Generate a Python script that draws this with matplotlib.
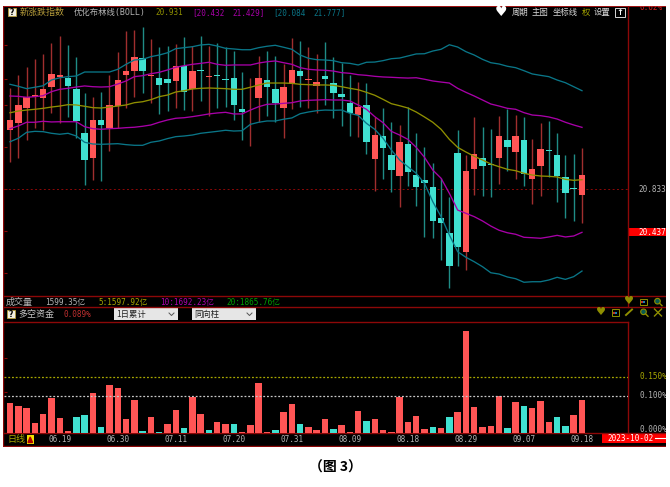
import matplotlib
matplotlib.use('Agg')
import matplotlib.pyplot as plt
from matplotlib.patches import Rectangle, Circle

W, H = 670, 487

# daily candles, index price
high = [21.767, 21.890, 21.967, 22.035, 22.082, 22.183, 22.251, 22.168, 22.054, 21.721,
        21.690, 21.730, 21.890, 22.100, 22.297, 22.307, 22.337, 22.223, 22.152, 22.161,
        22.177, 22.242, 22.158, 22.251, 22.158, 22.183, 22.152, 22.115, 21.921, 21.860,
        22.066, 22.115, 22.066, 21.992, 22.230, 22.205, 22.147, 22.085, 22.198, 22.054,
        22.001, 21.890, 21.828, 21.816, 21.505, 21.582, 21.453, 21.428, 21.597, 21.351,
        21.221, 21.073, 20.940, 20.764, 21.381, 21.150, 21.502, 21.412, 21.391, 21.511,
        21.573, 21.520, 21.499, 21.298, 21.443, 21.468, 21.351, 21.150, 21.162, 21.218]
low = [21.083, 21.125, 21.289, 21.400, 21.381, 21.536, 21.443, 21.499, 21.305, 20.873,
       20.919, 20.913, 21.187, 21.397, 21.582, 21.690, 21.721, 21.628, 21.527, 21.557,
       21.588, 21.569, 21.560, 21.653, 21.514, 21.582, 21.594, 21.474, 21.289, 21.236,
       21.458, 21.514, 21.458, 21.305, 21.573, 21.592, 21.582, 21.536, 21.613, 21.490,
       21.421, 21.326, 21.320, 21.157, 20.820, 20.928, 20.811, 20.672, 20.863, 20.681,
       20.395, 20.380, 20.179, 19.917, 20.126, 20.086, 20.780, 20.771, 20.765, 20.882,
       21.005, 20.928, 20.866, 20.697, 20.774, 20.950, 20.713, 20.567, 20.543, 20.524]
open_ = [21.379, 21.449, 21.582, 21.691, 21.680, 21.779, 21.875, 21.860, 21.758, 21.357,
         21.120, 21.471, 21.397, 21.603, 21.890, 21.930, 22.045, 21.881, 21.865, 21.853,
         21.838, 21.973, 21.764, 21.938, 21.870, 21.888, 21.855, 21.865, 21.579, 21.525,
         21.680, 21.847, 21.764, 21.582, 21.804, 21.927, 21.842, 21.789, 21.878, 21.814,
         21.715, 21.628, 21.517, 21.613, 21.116, 21.326, 21.147, 20.953, 21.255, 20.962,
         20.916, 20.851, 20.570, 20.431, 21.166, 20.250, 21.024, 21.120, 21.070, 21.120,
         21.292, 21.175, 21.292, 20.931, 21.051, 21.194, 21.147, 20.944, 20.842, 20.780]
close = [21.477, 21.610, 21.684, 21.701, 21.764, 21.900, 21.888, 21.786, 21.465, 21.104,
         21.474, 21.428, 21.610, 21.847, 21.927, 22.054, 21.927, 21.890, 21.795, 21.813,
         21.971, 21.733, 21.930, 21.929, 21.879, 21.879, 21.846, 21.616, 21.545, 21.534,
         21.860, 21.777, 21.628, 21.777, 21.937, 21.878, 21.851, 21.828, 21.851, 21.727,
         21.690, 21.536, 21.597, 21.268, 21.332, 21.212, 21.009, 21.268, 20.990, 20.854,
         20.894, 20.542, 20.524, 20.123, 20.302, 21.002, 21.157, 21.048, 21.058, 21.326,
         21.227, 21.326, 20.975, 21.024, 21.206, 21.184, 20.959, 20.799, 20.833, 20.965]

# BOLL bands
boll_top = [21.804, 21.786, 21.764, 21.777, 21.791, 21.844, 21.865, 21.875, 21.881, 21.918,
            21.918, 21.918, 21.918, 21.943, 21.989, 22.029, 22.035, 22.060, 22.075, 22.096,
            22.134, 22.143, 22.152, 22.168, 22.174, 22.158, 22.137, 22.131, 22.124, 22.124,
            22.143, 22.156, 22.165, 22.147, 22.128, 22.075, 22.045, 22.032, 22.029, 22.023,
            22.004, 21.998, 21.983, 22.008, 22.010, 22.023, 22.041, 22.047, 22.066, 22.085,
            22.087, 22.112, 22.128, 22.170, 22.149, 22.106, 22.075, 22.035, 22.004, 21.992,
            21.971, 21.958, 21.930, 21.900, 21.887, 21.875, 21.844, 21.819, 21.782, 21.745]
boll_up = [21.696, 21.693, 21.684, 21.690, 21.699, 21.736, 21.758, 21.767, 21.779, 21.789,
           21.782, 21.779, 21.782, 21.807, 21.835, 21.875, 21.884, 21.902, 21.915, 21.937,
           21.962, 21.976, 21.989, 21.998, 22.008, 21.989, 21.980, 21.983, 21.983, 21.983,
           22.001, 22.013, 22.020, 22.004, 21.989, 21.958, 21.943, 21.937, 21.934, 21.927,
           21.912, 21.906, 21.893, 21.887, 21.878, 21.872, 21.869, 21.865, 21.862, 21.865,
           21.851, 21.835, 21.825, 21.816, 21.767, 21.730, 21.696, 21.659, 21.622, 21.603,
           21.582, 21.573, 21.542, 21.520, 21.514, 21.502, 21.483, 21.453, 21.428, 21.406]
boll_mid = [21.541, 21.557, 21.566, 21.573, 21.582, 21.594, 21.603, 21.616, 21.613, 21.601,
            21.588, 21.585, 21.594, 21.603, 21.613, 21.634, 21.643, 21.662, 21.690, 21.705,
            21.733, 21.745, 21.761, 21.767, 21.770, 21.767, 21.764, 21.758, 21.758, 21.777,
            21.798, 21.816, 21.816, 21.816, 21.813, 21.804, 21.801, 21.798, 21.798, 21.795,
            21.782, 21.767, 21.754, 21.730, 21.703, 21.665, 21.625, 21.606, 21.585, 21.548,
            21.502, 21.453, 21.388, 21.295, 21.221, 21.178, 21.138, 21.104, 21.067, 21.042,
            21.018, 21.005, 20.981, 20.965, 20.956, 20.953, 20.947, 20.925, 20.916, 20.922]
boll_low = [21.394, 21.419, 21.453, 21.453, 21.462, 21.456, 21.458, 21.458, 21.458, 21.412,
            21.394, 21.388, 21.394, 21.397, 21.403, 21.407, 21.416, 21.428, 21.453, 21.474,
            21.490, 21.495, 21.505, 21.517, 21.530, 21.539, 21.545, 21.530, 21.530, 21.566,
            21.597, 21.619, 21.622, 21.628, 21.634, 21.650, 21.656, 21.659, 21.662, 21.659,
            21.659, 21.650, 21.613, 21.573, 21.505, 21.449, 21.369, 21.335, 21.295, 21.221,
            21.129, 21.011, 20.935, 20.796, 20.641, 20.611, 20.580, 20.540, 20.493, 20.454,
            20.431, 20.417, 20.389, 20.385, 20.380, 20.392, 20.407, 20.392, 20.401, 20.435]
boll_bot = [21.273, 21.305, 21.360, 21.369, 21.366, 21.351, 21.342, 21.351, 21.326, 21.268,
            21.252, 21.249, 21.252, 21.255, 21.246, 21.240, 21.240, 21.268, 21.280, 21.302,
            21.320, 21.326, 21.335, 21.351, 21.360, 21.369, 21.379, 21.372, 21.375, 21.434,
            21.453, 21.465, 21.465, 21.481, 21.493, 21.532, 21.548, 21.560, 21.566, 21.564,
            21.566, 21.536, 21.517, 21.443, 21.388, 21.305, 21.197, 21.104, 21.042, 20.981,
            20.888, 20.718, 20.580, 20.410, 20.256, 20.204, 20.163, 20.117, 20.061, 20.049,
            20.022, 20.006, 19.973, 19.978, 19.978, 19.994, 20.019, 20.000, 20.025, 20.077]

# 多空资金, % (negative = short side, drawn upwards in cyan because of 同向柱)
flow = [0.080, 0.071, 0.068, 0.027, 0.051, 0.093, 0.041, 0.005, -0.044, -0.047,
        0.106, -0.015, 0.129, 0.119, 0.038, 0.089, -0.005, 0.042, -0.003, 0.023,
        0.062, -0.013, 0.095, 0.051, -0.007, 0.029, 0.025, -0.025, 0.004, 0.021,
        0.134, 0.003, -0.007, 0.056, 0.077, -0.025, 0.015, 0.008, 0.038, -0.012,
        0.021, 0.003, 0.058, -0.032, 0.038, 0.008, 0.003, 0.096, 0.030, 0.046,
        0.011, -0.015, 0.013, -0.042, 0.056, 0.272, 0.070, 0.016, 0.020, 0.099,
        -0.013, 0.084, -0.071, 0.066, 0.086, 0.029, -0.042, -0.020, 0.049, 0.089]

date_pos = [6, 13, 20, 27, 34, 41, 48, 55, 62, 69]
date_labels = ['06.19', '06.30', '07.11', '07.20', '07.31', '08.09', '08.18', '08.29', '09.07', '09.18']
left_ticks = [20.06, 20.45, 20.84, 21.22, 21.61, 21.85, 22.17]

RED = '#ff5555'
CYAN = '#40e0d0'
WICK_RED = '#a02e2e'
WICK_CYAN = '#1f8c86'
LINE = '#8c0808'
TEAL = '#0a7688'
MAGENTA = '#a800a8'
OLIVE = '#8f8f00'
GRAY = '#b4b4b4'
MONO = ['DejaVu Sans Mono', 'Noto Sans CJK SC']
CJK = ['Noto Sans CJK SC', 'DejaVu Sans']


def rect(x0, y0, x1, y1):
    return [x0 / W, 1 - y1 / H, (x1 - x0) / W, (y1 - y0) / H]


fig = plt.figure(figsize=(W / 100, H / 100), dpi=100, facecolor='white')

# black panel with frame, drawn in pixel coordinates
bg = fig.add_axes(rect(3, 5.5, 666, 447))
bg.set_xlim(3, 666)
bg.set_ylim(447, 5.5)
bg.set_facecolor('black')
bg.set_xticks([])
bg.set_yticks([])
for s in bg.spines.values():
    s.set_visible(False)


def label(x, y, s, color=GRAY, size=5.5, family=MONO, ha='left', **kw):
    bg.text(x, y, s, color=color, fontsize=size, family=family, ha=ha, va='center', clip_on=True, **kw)


def hline(y, x0=3, x1=666, color=LINE, lw=1.0, **kw):
    bg.plot([x0, x1], [y, y], color=color, lw=lw, **kw)


def box_icon(x, y, color=OLIVE):
    bg.add_patch(Rectangle((x - 3.5, y - 3), 7, 6.5, fc='black', ec=color, lw=0.7))
    bg.add_patch(Rectangle((x - 2, y - 0.5), 2, 2, fc='#c03030', ec='none'))
    bg.add_patch(Rectangle((x, y - 0.5), 2, 2, fc='#2080b0', ec='none'))


def lens_icon(x, y):
    bg.add_patch(Circle((x - 0.5, y - 0.5), 2.8, fc='#0a5a50', ec=OLIVE, lw=0.8))
    bg.plot([x + 1.5, x + 4], [y + 1.5, y + 4], color=OLIVE, lw=1.0)


def help_icon(x, y):
    bg.add_patch(Rectangle((x, y), 8, 8, fc='#f2efe0', ec='#b59b3a', lw=0.6))
    bg.text(x + 4, y + 4.2, '?', color='black', fontsize=5.5, fontweight='bold', ha='center', va='center')


def dropdown(x0, x1, s):
    bg.add_patch(Rectangle((x0, 308), x1 - x0, 12.5, fc='#e6e6e6', ec='none'))
    label(x0 + 2, 314.2, s, color='#222222', size=6, family=CJK)
    bg.plot([x1 - 9, x1 - 6.5, x1 - 4], [313, 315.5, 313], color='#555555', lw=0.7)


hline(5.8, color='#c01818', lw=1.2)
hline(296)
hline(306.7)
hline(321.7, x1=628)
hline(433.3)
hline(446.5)
bg.plot([3.4, 3.4], [5.5, 447], color=LINE, lw=1.0)
bg.plot([628.3, 628.3], [5.5, 306.7], color=LINE, lw=1.0)
bg.plot([628.3, 628.3], [321.7, 433.3], color=LINE, lw=1.0)

# header row
help_icon(8, 8.5)
label(20, 12.5, '新涨跌指数', color='#b59b3a', size=6.5, family=CJK)
label(74, 12.5, '优化布林线(BOLL)', color=GRAY, size=6)
label(155, 12.5, '20.931', color=OLIVE)
label(192, 12.5, '[20.432', color=MAGENTA)
label(232, 12.5, '21.429]', color=MAGENTA)
label(273, 12.5, '[20.084', color=TEAL)
label(313, 12.5, '21.777]', color=TEAL)
label(501, 12, '♥', color='white', size=10, family=['DejaVu Sans'], ha='center')
label(512, 12.5, '周期', color='#d8d8d8', size=6, family=CJK)
label(532, 12.5, '主图', color='#d8d8d8', size=6, family=CJK)
label(553, 12.5, '坐标线', color='#d8d8d8', size=6, family=CJK)
label(582, 12.5, '权', color='#a8a800', size=6, family=CJK)
label(594, 12.5, '设置', color='#d8d8d8', size=6, family=CJK)
bg.add_patch(Rectangle((615, 8), 10, 9.5, fc='black', ec='#d8d8d8', lw=0.7))
label(620, 12.5, '↑', color='white', size=6, family=['DejaVu Sans'], ha='center', fontweight='bold')
label(640, 8, '0.62%', color='#d02020')

# right side prices
label(638, 189.5, '20.833')
bg.add_patch(Rectangle((628.8, 227.7), 38, 8.8, fc='#ff0000', ec='none'))
label(638, 232.2, '20.437', color='white')

# volume row
label(6, 302.3, '成交量', size=6.5, family=CJK)
label(45, 302.3, '1599.35亿')
label(98, 302.3, '5:1597.92亿', color='#a8a800')
label(160, 302.3, '10:1692.23亿', color='#b000b0')
label(226, 302.3, '20:1865.76亿', color='#00a000')
label(628.7, 301.5, '♥', color=OLIVE, size=8, family=['DejaVu Sans'], ha='center')
box_icon(643, 301.7)
lens_icon(658, 301.7)

# flow row
help_icon(6.5, 310)
label(18, 314.2, '多空资金', color='#c8c8c8', size=6.5, family=CJK)
label(63, 314.2, '0.089%', color='#c03030')
dropdown(114, 178, '1日累计')
dropdown(192, 256, '同向柱')
label(600.7, 312, '♥', color=OLIVE, size=8, family=['DejaVu Sans'], ha='center')
box_icon(615, 312.3)
bg.plot([626, 632], [315, 309.5], color=OLIVE, lw=1.4)
lens_icon(644, 312.3)
bg.plot([654.5, 661.5], [309, 316], color=OLIVE, lw=1.0)
bg.plot([654.5, 661.5], [316, 309], color=OLIVE, lw=1.0)

# right side percent labels and bottom row
label(639, 376.8, '0.150%', color='#a8a800')
label(639, 395.8, '0.100%')
label(639, 429.8, '0.000%')
label(7, 439.5, '日线', color='#a8a800', size=6.5, family=CJK)
bg.add_patch(Rectangle((26.5, 435), 7.5, 9, fc='#f0e000', ec='none'))
bg.fill([28, 30.2, 32.5], [442.5, 437, 442.5], color='#b00000')
bg.add_patch(Rectangle((602, 434.2), 64, 8.6, fc='#ff0000', ec='none'))
label(607, 438.5, '2023-10-02', color='white')
hline(438.5, x0=655, x1=666, color='white', lw=0.8)

# candles
ax = fig.add_axes(rect(3.5, 20, 628, 296))
ax.patch.set_alpha(0)
xs = list(range(len(close)))
up = [c >= o for o, c in zip(open_, close)]
wick_colors = [WICK_RED if u else WICK_CYAN for u in up]
body_colors = [RED if u else CYAN for u in up]
ax.vlines(xs, low, high, colors=wick_colors, lw=1.0, zorder=2)
ax.bar(xs, [abs(c - o) for o, c in zip(open_, close)], bottom=[min(o, c) for o, c in zip(open_, close)],
       width=0.78, color=body_colors, lw=0, zorder=3)
ax.plot(xs, boll_top, color=TEAL, lw=0.95, zorder=4)
ax.plot(xs, boll_up, color=MAGENTA, lw=0.95, zorder=4)
ax.plot(xs, boll_mid, color=OLIVE, lw=0.95, zorder=4)
ax.plot(xs, boll_low, color=MAGENTA, lw=0.95, zorder=4)
ax.plot(xs, boll_bot, color=TEAL, lw=0.95, zorder=4)
ax.axhline(20.833, color=LINE, lw=0.7, ls=(0, (2, 2.5)), zorder=1)
ax.set_xlim(-0.784, 74.55)
ax.set_ylim(19.846, 22.399)
ax.set_xticks([])
ax.set_yticks(left_ticks)
ax.set_yticklabels([])
ax.tick_params(axis='y', direction='in', length=2.5, width=0.8, color=LINE)
for s in ax.spines.values():
    s.set_visible(False)

# flow bars
ax2 = fig.add_axes(rect(3.5, 322, 628, 433))
ax2.patch.set_alpha(0)
ax2.bar(xs, [abs(v) for v in flow], width=0.78, color=[RED if v > 0 else CYAN for v in flow], lw=0, zorder=3)
ax2.axhline(0.15, color='#a8a800', lw=0.9, ls=(0, (1.5, 1.5)), zorder=2)
ax2.axhline(0.10, color='#c8c8c8', lw=0.9, ls=(0, (1.5, 1.5)), zorder=4)
ax2.set_xlim(-0.784, 74.55)
ax2.set_ylim(0, 0.2968)
ax2.set_xticks(date_pos)
ax2.set_xticklabels(date_labels, color=GRAY, fontsize=5.5, family='DejaVu Sans Mono')
ax2.tick_params(axis='x', length=0, pad=1.5)
ax2.set_yticks([0.11, 0.20])
ax2.set_yticklabels([])
ax2.tick_params(axis='y', direction='in', length=2.5, width=0.8, color=LINE)
for s in ax2.spines.values():
    s.set_visible(False)

fig.text(335 / W, 1 - 468 / H, '（图 3）', color='black', fontsize=10, fontweight='bold',
         family=CJK, ha='center', va='center')

fig.savefig('out.png', dpi=100)
